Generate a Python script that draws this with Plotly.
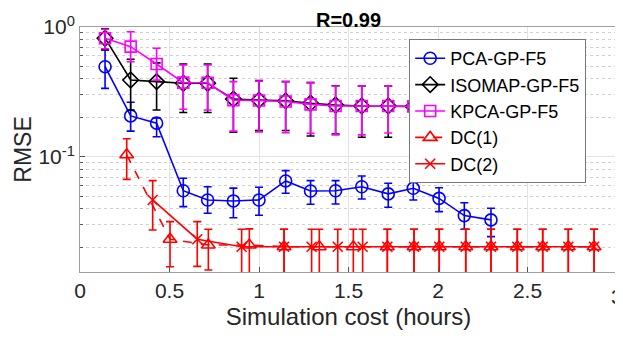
import plotly.graph_objects as go

# x positions (hours)
gp_x = [0.14, 0.283, 0.428, 0.577, 0.713, 0.857, 1.0, 1.149, 1.288, 1.428, 1.574, 1.722, 1.862, 2.006, 2.147, 2.296]

pca_y = [0.495, 0.207, 0.182, 0.055, 0.0467, 0.0459, 0.0467, 0.0654, 0.0547, 0.055, 0.059, 0.052, 0.0574, 0.048, 0.0354, 0.0328]
pca_hi = [0.665, 0.264, 0.2, 0.0686, 0.059, 0.0576, 0.0585, 0.0785, 0.0658, 0.0658, 0.0714, 0.0628, 0.0697, 0.058, 0.0445, 0.0403]
pca_lo = [0.337, 0.158, 0.143, 0.0415, 0.0369, 0.0341, 0.0356, 0.0526, 0.0433, 0.0435, 0.0475, 0.041, 0.0467, 0.038, 0.0278, 0.0244]

iso_y = [0.82, 0.391, 0.38, 0.369, 0.369, 0.279, 0.274, 0.27, 0.259, 0.251, 0.247, 0.247, 0.245, 0.243, 0.241, 0.24]
iso_hi = [0.97, 0.565, 0.53, 0.519, 0.519, 0.403, 0.387, 0.38, 0.373, 0.353, 0.352, 0.352, 0.35, 0.348, 0.346, 0.345]
iso_lo = [0.67, 0.23, 0.23, 0.22, 0.22, 0.155, 0.16, 0.16, 0.145, 0.15, 0.142, 0.142, 0.14, 0.138, 0.136, 0.135]

kpca_y = [0.82, 0.706, 0.519, 0.373, 0.372, 0.274, 0.272, 0.267, 0.254, 0.247, 0.247, 0.247, 0.245, 0.243, 0.241, 0.24]
kpca_hi = [0.96, 0.92, 0.686, 0.51, 0.51, 0.38, 0.383, 0.38, 0.373, 0.352, 0.352, 0.352, 0.35, 0.348, 0.346, 0.345]
kpca_lo = [0.68, 0.54, 0.39, 0.233, 0.23, 0.158, 0.156, 0.154, 0.152, 0.148, 0.148, 0.153, 0.15, 0.15, 0.15, 0.15]

dc1_x = [0.261, 0.503, 0.717, 0.946, 1.14, 1.337, 1.527, 1.717, 1.866, 2.007, 2.155, 2.296, 2.443, 2.585, 2.728, 2.872]
dc1_y = [0.104, 0.0233, 0.021, 0.021, 0.0204, 0.0204, 0.0204, 0.0204, 0.0204, 0.0204, 0.0204, 0.0204, 0.0204, 0.0204, 0.0204, 0.0204]
dc1_hi = [0.138, 0.0318, 0.0278, 0.028, 0.0278, 0.0278, 0.0278, 0.0278, 0.0278, 0.0278, 0.0278, 0.0278, 0.0278, 0.0278, 0.0278, 0.0278]
dc1_lo = [0.0673, 0.0143, 0.0135, 0.0125, 0.0125, 0.0125, 0.0125, 0.0125, 0.0125, 0.0125, 0.0125, 0.0125, 0.0125, 0.0125, 0.0125, 0.0125]

dc2_x = [0.406, 0.655, 0.903, 1.14, 1.294, 1.44, 1.579, 1.717, 1.866, 2.007, 2.155, 2.296, 2.443, 2.585, 2.728, 2.872]
dc2_y = [0.0467, 0.0233, 0.0204, 0.0204, 0.0204, 0.0204, 0.0204, 0.0204, 0.0204, 0.0204, 0.0204, 0.0204, 0.0204, 0.0204, 0.0204, 0.0204]
dc2_hi = [0.0658, 0.0318, 0.0278, 0.0278, 0.0278, 0.0278, 0.0278, 0.0278, 0.0278, 0.0278, 0.0278, 0.0278, 0.0278, 0.0278, 0.0278, 0.0278]
dc2_lo = [0.0274, 0.0144, 0.0125, 0.0125, 0.0125, 0.0125, 0.0125, 0.0125, 0.0125, 0.0125, 0.0125, 0.0125, 0.0125, 0.0125, 0.0125, 0.0125]

x_ticks = [0, 0.5, 1, 1.5, 2, 2.5, 3]
x_labels = ["0", "0.5", "1", "1.5", "2", "2.5", "3"]


def err(y, hi, lo, color):
    return dict(type="data", symmetric=False,
                array=[h - v for h, v in zip(hi, y)],
                arrayminus=[v - l for v, l in zip(y, lo)],
                color=color, thickness=1.6, width=4)


fig = go.Figure()

series = [
    ("PCA-GP-F5", gp_x, pca_y, pca_hi, pca_lo, "#0000ff", "circle-open", "solid", 12),
    ("ISOMAP-GP-F5", gp_x, iso_y, iso_hi, iso_lo, "#000000", "diamond-open", "solid", 12),
    ("KPCA-GP-F5", gp_x, kpca_y, kpca_hi, kpca_lo, "#ff00ff", "square-open", "solid", 11),
    ("DC(1)", dc1_x, dc1_y, dc1_hi, dc1_lo, "#ff0000", "triangle-up-open", "dash", 12),
    ("DC(2)", dc2_x, dc2_y, dc2_hi, dc2_lo, "#ff0000", "x-thin-open", "solid", 10),
]

for name, x, y, hi, lo, c, sym, dash, sz in series:
    fig.add_trace(go.Scatter(
        x=x, y=y, name=name, mode="lines+markers",
        line=dict(color=c, width=1.6, dash=dash),
        marker=dict(symbol=sym, size=sz, color=c, line=dict(color=c, width=1.6)),
        error_y=err(y, hi, lo, c),
    ))

# the last tick label sits at the very edge and plotly drops it, so it is drawn as an annotation
fig.add_annotation(x=x_ticks[-1], y=0, xref="x", yref="paper", text=x_labels[-1],
                   showarrow=False, xanchor="center", yanchor="middle", yshift=-24,
                   font=dict(size=21, color="#262626"))

# page body adds an 8px margin, so size/margins are reduced to match
fig.update_layout(
    width=615, height=322,
    margin=dict(l=72, r=6, t=19, b=58, autoexpand=False),
    paper_bgcolor="white", plot_bgcolor="white",
    font=dict(family="Liberation Sans, Arial, sans-serif", size=21, color="#262626"),
    title=dict(text="<b>R=0.99</b>", xref="paper", x=0.5, xanchor="center",
               y=0.985, yanchor="top",
               pad=dict(t=0, b=0), font=dict(size=20, color="black")),
    showlegend=True,
    legend=dict(x=0.613, y=0.951, xanchor="left", yanchor="top",
                bgcolor="white", bordercolor="#777777", borderwidth=1,
                font=dict(size=18, color="black"), tracegroupgap=0,
                itemwidth=30),
    xaxis=dict(range=[0, 3], tickvals=x_ticks[:-1], ticktext=x_labels[:-1],
               showgrid=True, gridcolor="#e3e3e3", gridwidth=1, automargin=False,
               showline=True, linecolor="#a0a0a0", mirror=True,
               ticks="inside", ticklen=5, tickcolor="#555555", zeroline=False,
               title=dict(text="Simulation cost (hours)", standoff=10, font=dict(size=24))),
    yaxis=dict(type="log", range=[-1.885, 0], automargin=False,
               tickvals=[0.1, 1], ticktext=["10<sup>-1</sup>", "10<sup>0</sup>"],
               showgrid=True, gridcolor="#e3e3e3", gridwidth=1,
               showline=True, linecolor="#a0a0a0", mirror=True,
               ticks="inside", ticklen=5, tickcolor="#555555", zeroline=False,
               minor=dict(tickvals=[0.02, 0.03, 0.04, 0.05, 0.06, 0.07, 0.08, 0.09,
                                    0.2, 0.3, 0.4, 0.5, 0.6, 0.7, 0.8, 0.9],
                          showgrid=True, gridcolor="#d0d0d0", griddash="dot",
                          ticks="inside", ticklen=3, tickcolor="#555555"),
               title=dict(text="RMSE", standoff=0, font=dict(size=23))),
)

fig.write_html("out.html")
